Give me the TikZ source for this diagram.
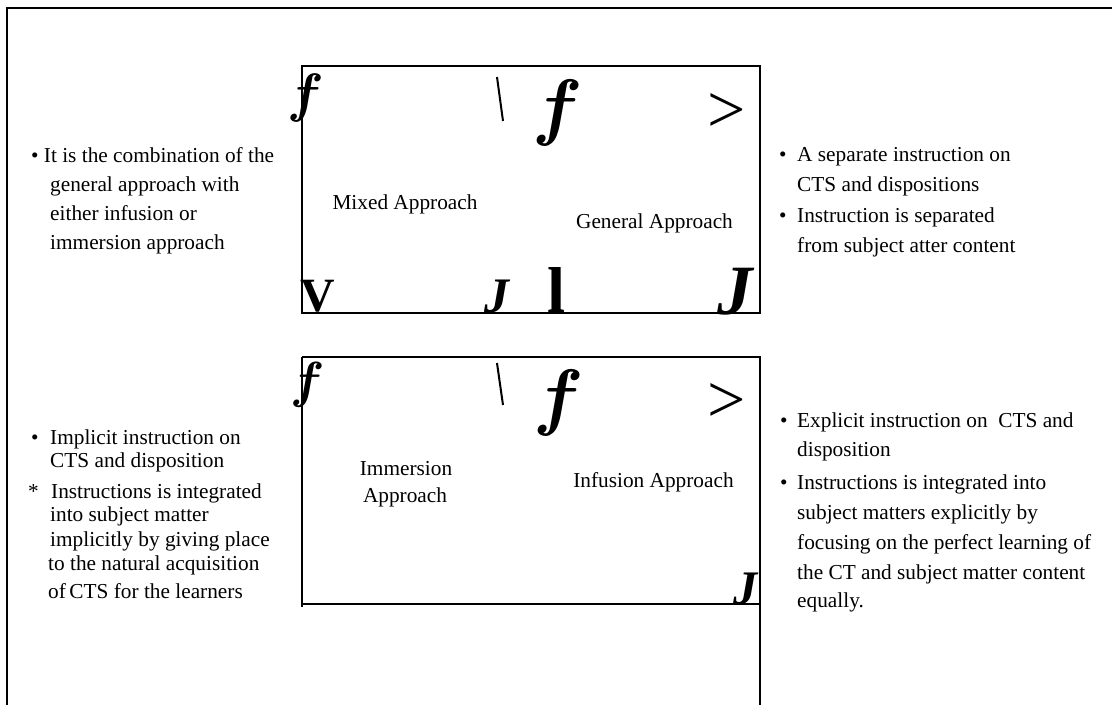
\documentclass[tikz,border=0pt]{standalone}
\usepackage{amsmath}
\usepackage{fontspec}
\setmainfont{Liberation Serif}
\usepackage{graphicx}
% a glyph stretched to a given ink height and widened by a factor
\newcommand{\bigglyph}[3]{\scalebox{#2}[1]{\resizebox*{!}{#1}{#3}}}
\newcommand{\curlyf}{$\boldsymbol{f}$}
\begin{document}
\begin{tikzpicture}[x=1pt,y=-1pt,
  rule/.style={line width=1.3pt},
  txt/.style={anchor=base west, inner sep=0pt, font=\fontsize{21.3}{25}\selectfont},
  lbl/.style={anchor=base, inner sep=0pt, font=\fontsize{21.3}{25}\selectfont},
  glyph/.style={inner sep=0pt}]
\useasboundingbox (0,0) rectangle (1112,705);

% outer frame (top and left sides only)
\draw[rule] (1112,8) -- (7,8) -- (7,705);

% upper panel
\draw[rule] (302,66) rectangle (760,313);
% lower panel, its right side running on to the bottom edge
\draw[rule] (302,357) -- (760,357) -- (760,705);
\draw[rule] (302,357) -- (302,607);
\draw[rule] (302,604) -- (760,604);

% glyphs of the upper panel
\node[glyph, anchor=north] (ua) at (306,74) {\bigglyph{48pt}{1}{\curlyf}};
\draw[line width=2pt] (497,77) -- (503,121);
\node[glyph, anchor=north] (ub) at (558,80) {\bigglyph{66pt}{1}{\curlyf}};
\node[glyph, anchor=north] (uc) at (727,93) {\bigglyph{39pt}{1}{>}};
\node[glyph, anchor=south] (ud) at (318,312) {\bigglyph{32pt}{1}{\textbf{V}}};
\node[glyph, anchor=south] (ue) at (497.5,313) {\bigglyph{33pt}{1}{\textbf{\textit{J}}}};
\node[glyph, anchor=south] (uf) at (556.5,313) {\bigglyph{45pt}{1}{\textbf{l}}};
\node[glyph, anchor=south] (ug) at (736.5,315) {\bigglyph{47pt}{1}{\textbf{\textit{J}}}};

% glyphs of the lower panel
\node[glyph, anchor=north] (la) at (308,362) {\bigglyph{45pt}{1}{\curlyf}};
\draw[line width=2pt] (497,363) -- (503,405);
\node[glyph, anchor=north] (lb) at (558.5,370) {\bigglyph{66pt}{1}{\curlyf}};
\node[glyph, anchor=north] (lc) at (727,383) {\bigglyph{39pt}{1}{>}};
\node[glyph, anchor=south] (ld) at (746,605) {\bigglyph{32pt}{1}{\textbf{\textit{J}}}};

% panel labels
\node[lbl] (mixed) at (405,209) {Mixed Approach};
\node[lbl] (general) at (654.5,228) {General Approach};
\node[lbl] (immA) at (406,475) {Immersion};
\node[lbl] (immB) at (405,502) {Approach};
\node[lbl] (infusion) at (653.5,487) {Infusion Approach};

% notes on the mixed approach
\node[txt] (ml1) at (31,162) {•\ It is the combination of the};
\node[txt] (ml2) at (50,191) {general approach with};
\node[txt] (ml3) at (50,220) {either infusion or};
\node[txt] (ml4) at (50,249) {immersion approach};

% notes on the general approach
\node[txt] (gb1) at (779,161) {•};
\node[txt] (gl1) at (797,161) {A separate instruction on};
\node[txt] (gl2) at (797,191) {CTS and dispositions};
\node[txt] (gb2) at (779,222) {•};
\node[txt] (gl3) at (797,222) {Instruction is separated};
\node[txt] (gl4) at (797,252) {from subject atter content};

% notes on the immersion approach
\node[txt] (ib1) at (31,444) {•};
\node[txt] (il1) at (50,444) {Implicit instruction on};
\node[txt] (il2) at (50,467) {CTS and disposition};
\node[txt] (ib2) at (28,498) {*};
\node[txt] (il3) at (51,498) {Instructions is integrated};
\node[txt] (il4) at (50,521) {into subject matter};
\node[txt] (il5) at (50,546) {implicitly by giving place};
\node[txt] (il6) at (48,570) {to the natural acquisition};
\node[txt] (il7) at (48,598) {of\,CTS for the learners};

% notes on the infusion approach
\node[txt] (fb1) at (780,427) {•};
\node[txt] (fl1) at (797,427) {Explicit instruction on \ CTS and};
\node[txt] (fl2) at (797,456) {disposition};
\node[txt] (fb2) at (780,489) {•};
\node[txt] (fl3) at (797,489) {Instructions is integrated into};
\node[txt] (fl4) at (797,519) {subject matters explicitly by};
\node[txt] (fl5) at (797,549) {focusing on the perfect learning of};
\node[txt] (fl6) at (797,579) {the CT and subject matter content};
\node[txt] (fl7) at (797,607) {equally.};
\end{tikzpicture}
\end{document}
